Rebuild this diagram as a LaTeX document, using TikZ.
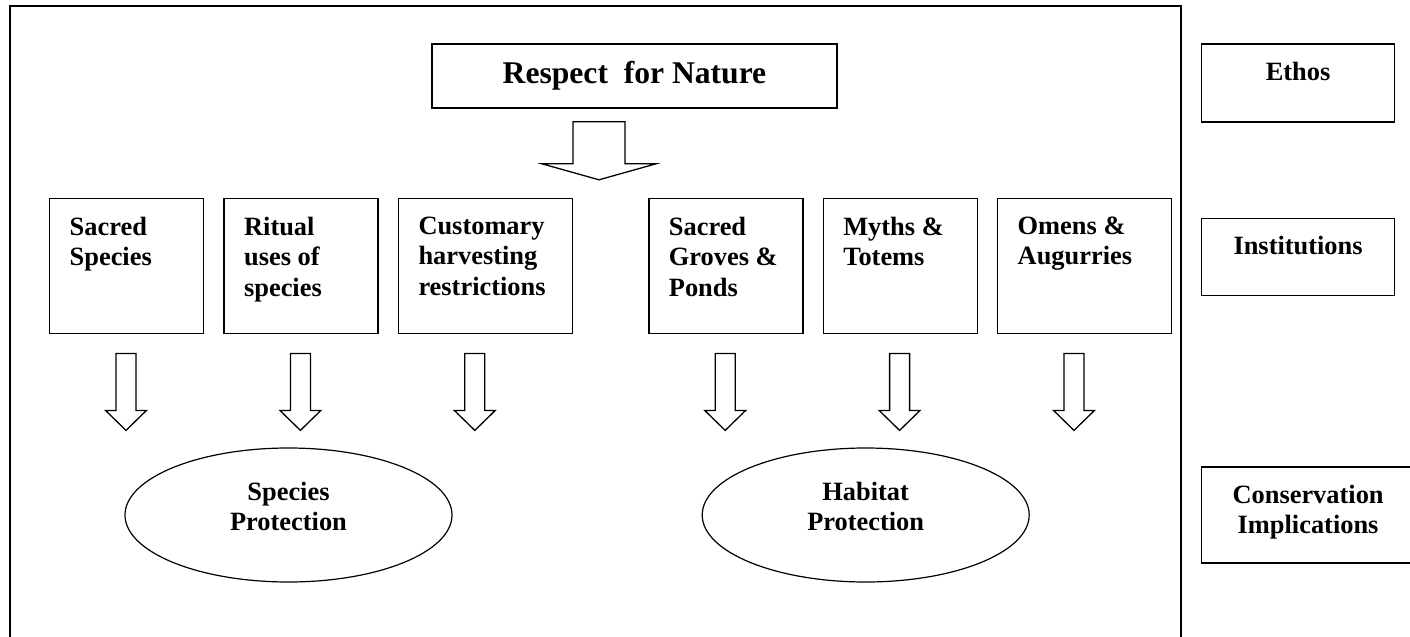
\documentclass[tikz,border=0pt]{standalone}
\usepackage{fontspec}
\setmainfont{Liberation Serif}
\usetikzlibrary{positioning,calc,shapes.geometric}

\newcommand{\txtfont}{\fontsize{13.2pt}{15.25pt}\selectfont\bfseries}
\newcommand{\insttext}[2]{\parbox[c][49.5pt][t]{#1}{\raggedright #2}}
\newcommand{\tiertext}[3]{\parbox[c][#1][t]{#2}{\centering #3}}
% hollow arrow pointing down: tail, shaft half width, head half width, shaft length, head length
\newcommand{\dnarrow}[5]{\draw[hollow] (#1) ++(-#2,0) -- ++(0,#4) -- ++({#2-#3},0) -- ++(#3,#5) -- ++(#3,-#5) -- ++({#2-#3},0) -- ++(0,-#4) -- cycle;}

\tikzstyle{inst}=[draw, line width=0.7pt, inner xsep=10pt, inner ysep=9pt, font=\txtfont]
\tikzstyle{tier}=[draw, line width=0.8pt, inner xsep=0pt, inner ysep=9pt, font=\txtfont]
\tikzstyle{prot}=[draw, ellipse, line width=0.6pt, minimum width=163.5pt, minimum height=67pt]
\tikzstyle{hollow}=[draw, line width=0.65pt, fill=white]

\begin{document}
\begin{tikzpicture}[x=0.5pt, y=-0.5pt]
    \useasboundingbox (0,0) rectangle (1410,637);
    \draw[line width=0.9pt] (10,650) -- (10,6) -- (1181,6) -- (1181,650);

    \node [draw, line width=0.8pt, minimum width=202.5pt, minimum height=32pt,
           font=\fontsize{15.8pt}{18pt}\selectfont\bfseries] (resp) at (634.5,76) {Respect\ \ for Nature};
    \dnarrow{$(resp.south)+(-35.5,13)$}{26}{57}{42}{16}

    \node [inst, anchor=north west] (sacsp) at (49,198) {\insttext{57pt}{Sacred\\Species}};
    \node [inst, right=9.5pt of sacsp] (ritual) {\insttext{57pt}{Ritual\\uses of\\species}};
    \node [inst, right=9.5pt of ritual] (harvest) {\insttext{67pt}{Customary\\harvesting\\restrictions}};
    \node [inst, right=37.5pt of harvest] (groves) {\insttext{57pt}{Sacred\\Groves \&\\Ponds}};
    \node [inst, right=9.5pt of groves] (myths) {\insttext{57pt}{Myths \&\\Totems}};
    \node [inst, right=9.5pt of myths] (omens) {\insttext{67pt}{Omens \&\\Augurries}};

    \foreach \n in {sacsp,ritual,harvest,groves,myths,omens}
        {\dnarrow{$(\n.south west)+(77,19)$}{10}{20.5}{57}{20}}

    \node [prot, label={[name=splbl, align=center, font=\txtfont, yshift=4.25pt]center:Species\\Protection}] (spprot) at (288.5,515) {};
    \node [prot, right=124.5pt of spprot, label={[name=hablbl, align=center, font=\txtfont, yshift=4.25pt]center:Habitat\\Protection}] (habprot) {};

    \node [tier, right=181.5pt of resp.north east, anchor=north west] (ethos) {\tiertext{21pt}{96.5pt}{Ethos}};
    \node [tier, below=47.5pt of ethos] (instit) {\tiertext{20.5pt}{96.5pt}{Institutions}};
    \node [tier, right=85.5pt of habprot] (consv) {\tiertext{30pt}{106.5pt}{Conservation\\Implications}};
\end{tikzpicture}
\end{document}
